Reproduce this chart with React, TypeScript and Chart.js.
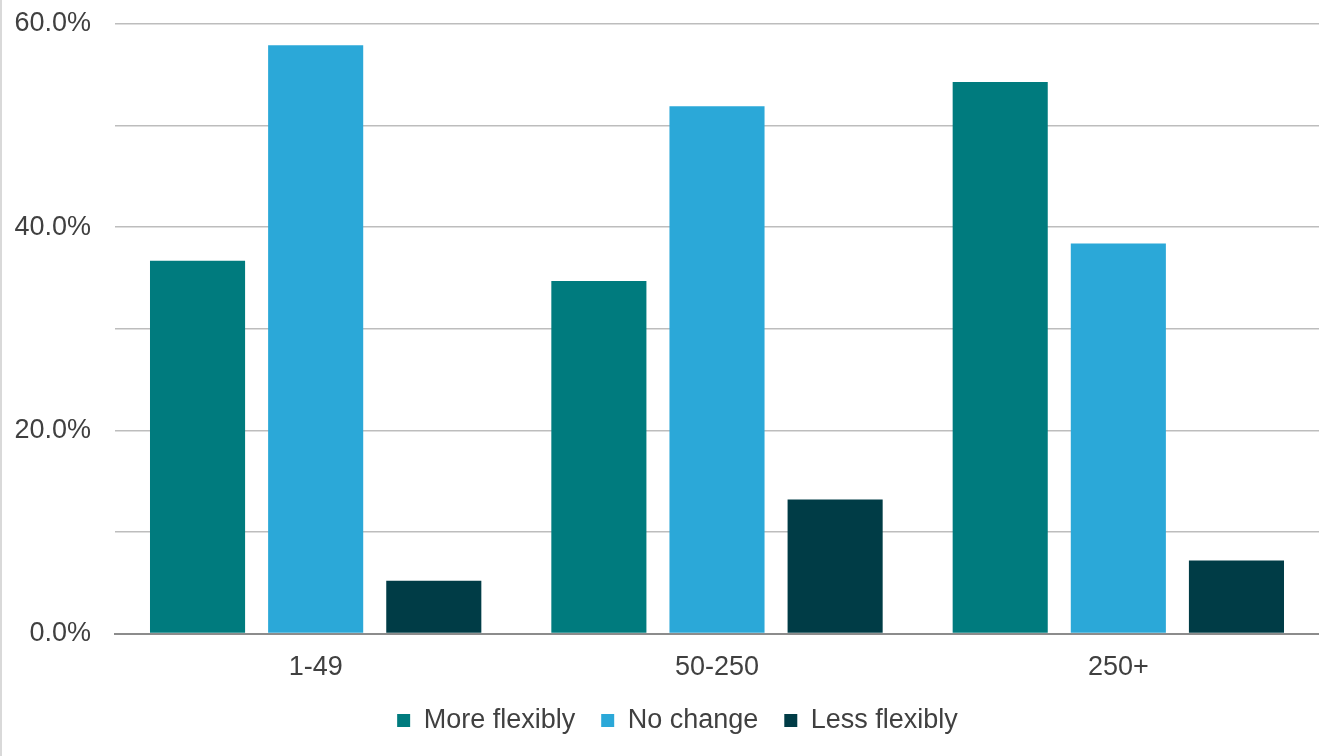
import { useEffect, useRef } from 'react';
import { Chart, registerables } from 'chart.js';

Chart.register(...registerables);

const categories = ['1-49', '50-250', '250+'];
const seriesNames = ['More flexibly', 'No change', 'Less flexibly'];
const moreFlexibly = [36.7, 34.7, 54.3];
const noChange = [57.9, 51.9, 38.4];
const lessFlexibly = [5.2, 13.2, 7.2];
const seriesColors = ['#007B7E', '#2BA8D8', '#003C46'];
const labelledTicks = [0, 20, 40, 60];

const TEXT = '#404040';
const FONT = 'Liberation Sans, Arial, sans-serif';

export default function App() {
  const ref = useRef<HTMLCanvasElement | null>(null);

  useEffect(() => {
    if (!ref.current) return;
    const shiftLegend = {
      id: 'shiftLegend',
      afterLayout(chart: any) {
        const lg = chart.legend;
        if (lg) {
          lg.left += 18;
          lg.right += 18;
        }
      },
    };
    const chart = new Chart(ref.current, {
      type: 'bar',
      data: {
        labels: categories,
        datasets: [moreFlexibly, noChange, lessFlexibly].map((d, i) => ({
          label: seriesNames[i],
          data: d,
          backgroundColor: seriesColors[i],
          borderWidth: 0,
          categoryPercentage: 0.883,
          barPercentage: 0.805,
        })),
      },
      options: {
        animation: false,
        responsive: false,
        devicePixelRatio: 1,
        layout: { padding: { top: 24, right: 0, bottom: 12, left: 0 } },
        plugins: {
          tooltip: { enabled: false },
          legend: {
            position: 'bottom',
            labels: {
              boxWidth: 13,
              boxHeight: 13,
              padding: 26,
              color: TEXT,
              font: { family: FONT, size: 27 },
            },
          },
        },
        scales: {
          x: {
            grid: { display: false, drawTicks: false },
            border: { display: true, color: '#8c8c8c', width: 2 },
            ticks: { color: TEXT, font: { family: FONT, size: 27 }, padding: 18, maxRotation: 0 },
            afterFit: (s: any) => {
              s.height = s.height - 21;
            },
          },
          y: {
            min: 0,
            max: 60,
            grid: { color: '#bdbdbd', lineWidth: 1.5, drawTicks: false },
            border: { display: false },
            ticks: {
              stepSize: 10,
              padding: 24,
              color: TEXT,
              font: { family: FONT, size: 27 },
              callback: (v: any) => (labelledTicks.includes(Number(v)) ? Number(v).toFixed(1) + '%' : ''),
            },
            afterFit: (s: any) => {
              s.width = 115;
              s.paddingTop = 0;
            },
          },
        },
      },
      plugins: [shiftLegend],
    });
    return () => chart.destroy();
  }, []);

  return (
    <div style={{ position: 'absolute', left: 0, top: 0, width: 1319, height: 756, background: '#fff' }}>
      <canvas ref={ref} width={1319} height={756} style={{ display: 'block' }} />
      <div style={{ position: 'absolute', left: 0, top: 0, width: 2, height: 756, background: '#d9d9d9' }} />
    </div>
  );
}
